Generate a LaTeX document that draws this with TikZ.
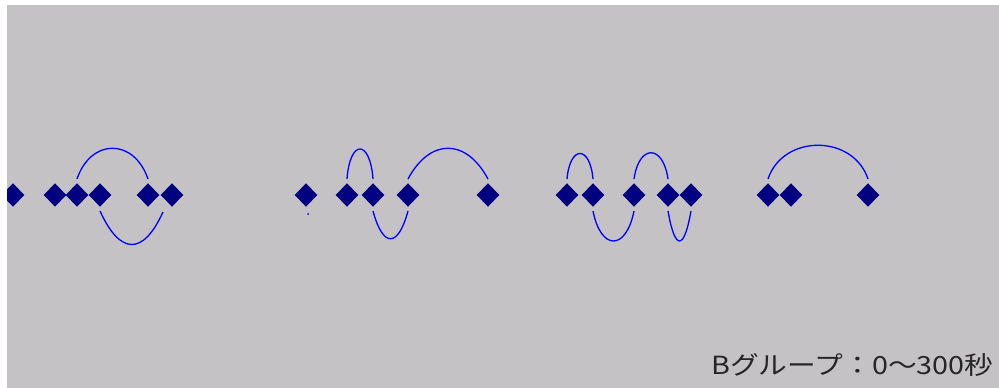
\documentclass[tikz,border=0pt]{standalone}
\usepackage{fontspec}
\newfontfamily\jpfont{Noto Sans CJK JP}
\usetikzlibrary{shapes.geometric}
\definecolor{bg}{RGB}{196,194,197}
\definecolor{navy}{RGB}{0,0,128}
\definecolor{arcblue}{RGB}{0,0,255}
\begin{document}
\begin{tikzpicture}[x=1pt,y=-1pt,
  dmd/.style={diamond, fill=navy, draw=none, inner sep=0pt, minimum width=25pt, minimum height=26pt, outer sep=3pt},
  curve/.style={draw=arcblue, line width=1.3pt},
  lbl/.style={font=\jpfont\fontsize{25}{25}\selectfont, text=black!85, inner sep=0pt}]
\useasboundingbox (0,0) rectangle (999,388);
\fill[white] (0,0) rectangle (999,388);
\fill[bg] (7,5) rectangle (999,388);
\begin{scope}
\clip (7,5) rectangle (999,388);
% group 1
\node[dmd] (g1a) at (13,195) {};
\node[dmd] (g1b) at (55,195) {};
\node[dmd] (g1c) at (77,195) {};
\node[dmd] (g1d) at (100,195) {};
\node[dmd] (g1e) at (148,195) {};
\node[dmd] (g1f) at (172,195) {};
% group 2
\node[dmd] (g2a) at (306,195) {};
\node[dmd] (g2b) at (347,195) {};
\node[dmd] (g2c) at (373,195) {};
\node[dmd] (g2d) at (408,195) {};
\node[dmd] (g2e) at (488,195) {};
% group 3
\node[dmd] (g3a) at (567,195) {};
\node[dmd] (g3b) at (593,195) {};
\node[dmd] (g3c) at (634,195) {};
\node[dmd] (g3d) at (668,195) {};
\node[dmd] (g3e) at (691,195) {};
% group 4
\node[dmd] (g4a) at (768,195) {};
\node[dmd] (g4b) at (791,195) {};
\node[dmd] (g4c) at (868,195) {};
\end{scope}
\coordinate (g1x) at (163,212);
% curves
\draw[curve] (g1c.north) .. controls +(14,-41) and +(-14,-41) .. (g1e.north);
\draw[curve] (g1d.south) .. controls +(20,44) and +(-20,44) .. (g1x);
\draw[curve] (g2b.north) .. controls +(3,-40) and +(-3,-40) .. (g2c.north);
\draw[curve] (g2c.south) .. controls +(10,37) and +(-10,37) .. (g2d.south);
\draw[curve] (g2d.north) .. controls +(22,-41) and +(-22,-41) .. (g2e.north);
\draw[curve] (g3a.north) .. controls +(3,-34) and +(-3,-34) .. (g3b.north);
\draw[curve] (g3b.south) .. controls +(8,40) and +(-8,40) .. (g3c.south);
\draw[curve] (g3c.north) .. controls +(5,-35) and +(-5,-35) .. (g3d.north);
\draw[curve] (g3d.south) .. controls +(7,40) and +(-7,40) .. (g3e.south);
\draw[curve] (g4a.north) .. controls +(15,-45) and +(-15,-45) .. (g4c.north);
\fill[arcblue] (308,214) circle (1pt);
% label
\node[lbl, anchor=base west] (cap) at (711,374) {\scalebox{1.15}[1]{Bグループ：0〜300秒}};
\end{tikzpicture}
\end{document}
